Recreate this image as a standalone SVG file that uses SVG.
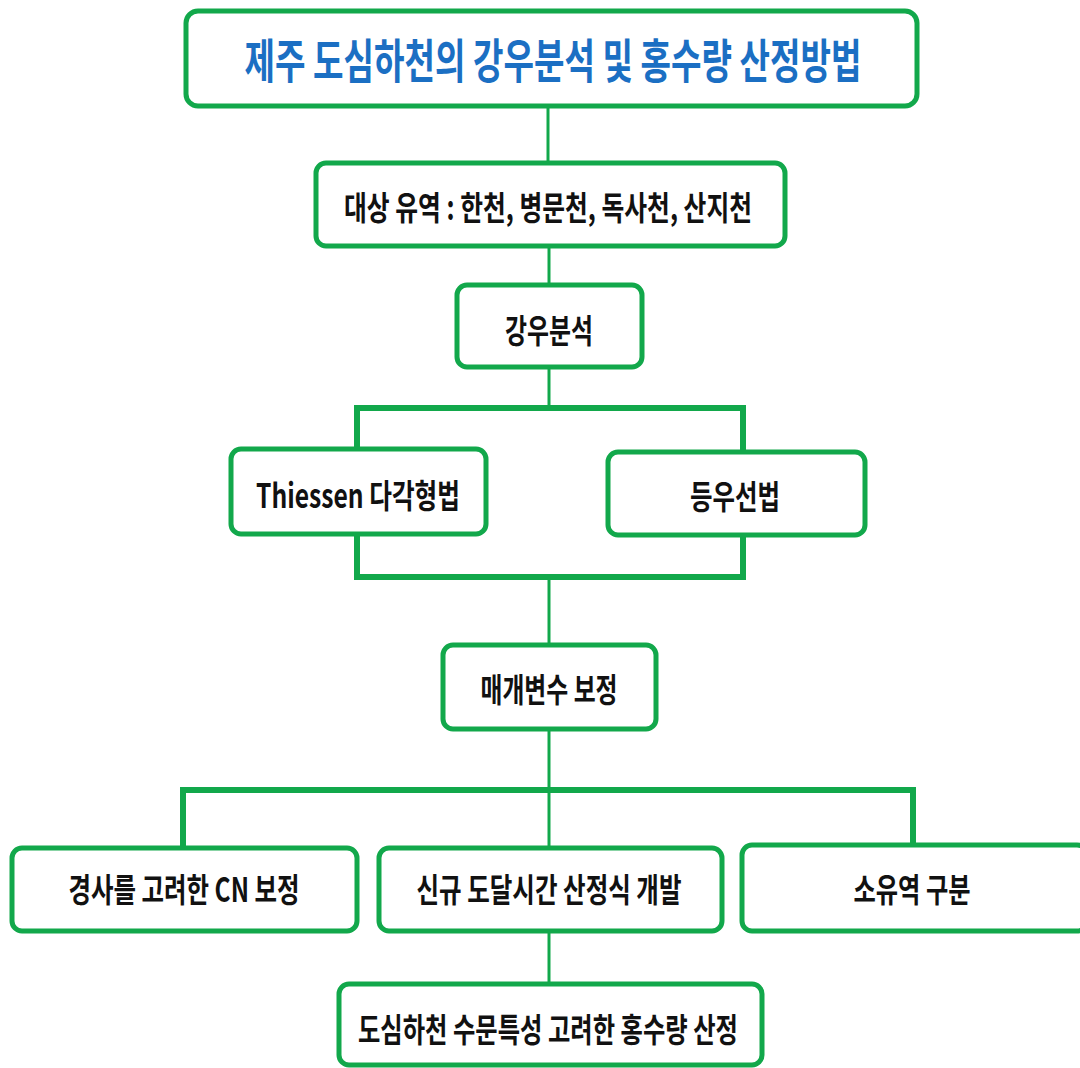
<svg xmlns="http://www.w3.org/2000/svg" width="1080" height="1068" viewBox="0 0 1080 1068">
<style>
.box{fill:#fff;stroke:#12A84B;stroke-width:5}
.ln{stroke:#12A84B;stroke-width:3;fill:none}
.hl{stroke:#12A84B;stroke-width:6;fill:none}
.t{font-family:"Noto Sans CJK KR","Noto Sans",sans-serif;font-weight:700;fill:#111;text-anchor:middle;dominant-baseline:central;font-size:33px}
.title{fill:#1B6FC3;font-size:47px}
</style>
<rect width="1080" height="1068" fill="#fff"/>
<g id="connectors">
<line class="ln" x1="548" y1="107" x2="548" y2="162"/>
<line class="ln" x1="549" y1="247" x2="549" y2="284"/>
<line class="ln" x1="549" y1="368" x2="549" y2="408"/>
<polyline class="hl" points="357,449 357,408 743,408 743,452"/>
<polyline class="hl" points="357,535 357,577 743,577 743,536"/>
<line class="ln" x1="549" y1="577" x2="549" y2="643"/>
<line class="ln" x1="549" y1="730" x2="549" y2="847"/>
<polyline class="hl" points="183,847 183,790 913,790 913,844"/>
<line class="ln" x1="549" y1="932" x2="549" y2="983"/>
</g>
<g id="title"><rect class="box" x="186" y="11" width="731" height="95" rx="12"/><text class="t title" x="553" y="57" textLength="617" lengthAdjust="spacingAndGlyphs">제주 도심하천의 강우분석 및 홍수량 산정방법</text></g>
<g id="basin"><rect class="box" x="316" y="163" width="469" height="83" rx="10"/><text class="t" x="548" y="206" textLength="408" lengthAdjust="spacingAndGlyphs">대상 유역 : 한천, 병문천, 독사천, 산지천</text></g>
<g id="rain"><rect class="box" x="457" y="285" width="185" height="82" rx="10"/><text class="t" x="549" y="329" textLength="88" lengthAdjust="spacingAndGlyphs">강우분석</text></g>
<g id="thiessen"><rect class="box" x="231" y="449" width="255" height="85" rx="10"/><text class="t" x="358" y="494" textLength="204" lengthAdjust="spacingAndGlyphs">Thiessen 다각형법</text></g>
<g id="isohyet"><rect class="box" x="608" y="452" width="257" height="83" rx="10"/><text class="t" x="735" y="495" textLength="90" lengthAdjust="spacingAndGlyphs">등우선법</text></g>
<g id="param"><rect class="box" x="443" y="645" width="213" height="84" rx="10"/><text class="t" x="549" y="688" textLength="137" lengthAdjust="spacingAndGlyphs">매개변수 보정</text></g>
<g id="cn"><rect class="box" x="12" y="848" width="345" height="83" rx="10"/><text class="t" x="184" y="888" textLength="231" lengthAdjust="spacingAndGlyphs">경사를 고려한 CN 보정</text></g>
<g id="tc"><rect class="box" x="379" y="848" width="343" height="83" rx="10"/><text class="t" x="549" y="888" textLength="265" lengthAdjust="spacingAndGlyphs">신규 도달시간 산정식 개발</text></g>
<g id="sub"><rect class="box" x="742" y="845" width="345" height="86" rx="10"/><text class="t" x="912" y="888" textLength="117" lengthAdjust="spacingAndGlyphs">소유역 구분</text></g>
<g id="flood"><rect class="box" x="339" y="984" width="423" height="81" rx="10"/><text class="t" x="548" y="1028" textLength="380" lengthAdjust="spacingAndGlyphs">도심하천 수문특성 고려한 홍수량 산정</text></g>
</svg>
